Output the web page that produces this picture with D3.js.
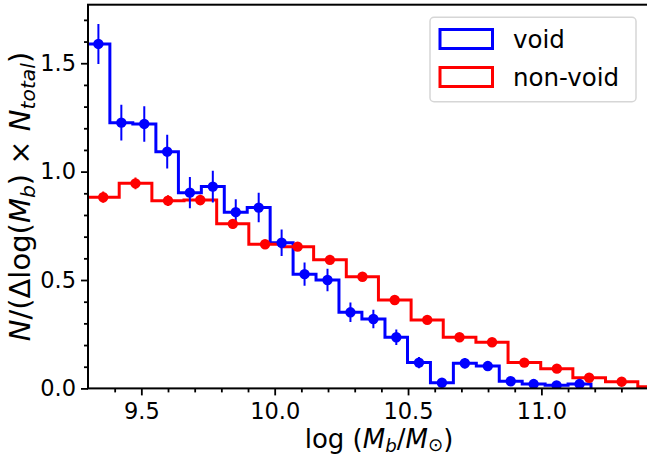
<!DOCTYPE html>
<html><head><meta charset="utf-8">
<script src="https://cdn.jsdelivr.net/npm/d3@7"></script>
<style>
body{margin:0;background:#fff;}
svg{display:block;font-family:"DejaVu Sans",sans-serif;}
</style></head>
<body>
<svg id="c" width="647" height="456"></svg>
<script>
// ---- data ----
const voidCenters = [9.339, 9.425, 9.511, 9.597, 9.682, 9.768, 9.854, 9.940, 10.026, 10.112, 10.198,
  10.284, 10.370, 10.456, 10.541, 10.627, 10.713, 10.799, 10.885, 10.971, 11.057, 11.143];
const voidValues = [1.589, 1.226, 1.220, 1.092, 0.903, 0.931, 0.813, 0.834, 0.672, 0.527, 0.500,
  0.351, 0.320, 0.236, 0.119, 0.026, 0.116, 0.103, 0.033, 0.020, 0.014, 0.020];
const voidErrors = [0.092, 0.082, 0.082, 0.078, 0.072, 0.073, 0.059, 0.068, 0.061, 0.054, 0.052,
  0.045, 0.043, 0.036, 0.026, 0.012, 0.024, 0.022, 0.013, 0.010, 0.008, 0.010];
const nonvoidCenters = [9.357, 9.478, 9.600, 9.721, 9.843, 9.964, 10.086, 10.207, 10.329, 10.450,
  10.572, 10.693, 10.815, 10.936, 11.058, 11.179, 11.301, 11.422];
const nonvoidValues = [0.882, 0.946, 0.866, 0.869, 0.759, 0.665, 0.654, 0.593, 0.515, 0.408,
  0.316, 0.236, 0.213, 0.119, 0.091, 0.049, 0.031, 0.008];
const nonvoidErrors = [0.026, 0.027, 0.025, 0.024, 0.022, 0.020, 0.019, 0.018, 0.016, 0.014,
  0.012, 0.010, 0.010, 0.008, 0.007, 0.005, 0.004, 0.002];
const xTicks = [9.5, 10.0, 10.5, 11.0];
const xMinorTicks = [9.4, 9.6, 9.7, 9.8, 9.9, 10.1, 10.2, 10.3, 10.4, 10.6, 10.7, 10.8, 10.9, 11.1, 11.2, 11.3, 11.4];
const yTicks = [0.0, 0.5, 1.0, 1.5];
const yMinorTicks = [0.1, 0.2, 0.3, 0.4, 0.6, 0.7, 0.8, 0.9, 1.1, 1.2, 1.3, 1.4, 1.6, 1.7];
const seriesNames = ["void", "non-void"];
const seriesColors = ["#0000ff", "#ff0000"];

// ---- layout ----
const L = 88, T = 4.7, B = 388.4;
const x = d3.scaleLinear().domain([9.3, 11.5]).range([L, L + 2.2 * 266.7]);
const y = d3.scaleLinear().domain([0, 1.77]).range([B, T]);
const R = x.range()[1];

const svg = d3.select("#c");
svg.append("defs").append("clipPath").attr("id", "clip")
  .append("rect").attr("x", L).attr("y", T).attr("width", R - L).attr("height", B - T);

function edgesFrom(c) {
  const e = [];
  for (let i = 0; i < c.length; i++) {
    const h = (i < c.length - 1 ? c[i + 1] - c[i] : c[i] - c[i - 1]) / 2;
    e.push(c[i] - h);
  }
  const hl = (c[c.length - 1] - c[c.length - 2]) / 2;
  e.push(c[c.length - 1] + hl);
  return e;
}
function stepPoints(c, v) {
  const e = edgesFrom(c);
  const pts = [[e[0], 0]];
  for (let i = 0; i < v.length; i++) { pts.push([e[i], v[i]]); pts.push([e[i + 1], v[i]]); }
  pts.push([e[v.length], 0]);
  return pts;
}
const line = d3.line().x(d => x(d[0])).y(d => y(d[1]));
const plot = svg.append("g").attr("clip-path", "url(#clip)");

const series = [
  {c: voidCenters, v: voidValues, e: voidErrors, col: seriesColors[0]},
  {c: nonvoidCenters, v: nonvoidValues, e: nonvoidErrors, col: seriesColors[1]}
];
series.forEach(s => {
  plot.append("path").attr("d", line(stepPoints(s.c, s.v)))
    .attr("fill", "none").attr("stroke", s.col).attr("stroke-width", 3)
    .attr("stroke-linejoin", "miter");
});
series.forEach(s => {
  const g = plot.append("g");
  g.selectAll("line").data(s.c).join("line")
    .attr("x1", d => x(d)).attr("x2", d => x(d))
    .attr("y1", (d, i) => y(s.v[i] - s.e[i])).attr("y2", (d, i) => y(s.v[i] + s.e[i]))
    .attr("stroke", s.col).attr("stroke-width", 2);
  g.selectAll("circle").data(s.c).join("circle")
    .attr("cx", d => x(d)).attr("cy", (d, i) => y(s.v[i])).attr("r", 5.2)
    .attr("fill", s.col);
});

// frame
svg.append("rect").attr("x", L).attr("y", T).attr("width", R - L).attr("height", B - T)
  .attr("fill", "none").attr("stroke", "#000").attr("stroke-width", 2);

// axes
const fs = 22.5;
const xAx = svg.append("g").attr("transform", `translate(0,${B})`)
  .call(d3.axisBottom(x).tickValues(xTicks).tickFormat(d3.format(".1f")).tickSize(7).tickSizeOuter(0).tickPadding(8));
const xMin = svg.append("g").attr("transform", `translate(0,${B})`)
  .call(d3.axisBottom(x).tickValues(xMinorTicks).tickFormat("").tickSize(4).tickSizeOuter(0));
const yAx = svg.append("g").attr("transform", `translate(${L},0)`)
  .call(d3.axisLeft(y).tickValues(yTicks).tickFormat(d3.format(".1f")).tickSize(7).tickSizeOuter(0).tickPadding(5));
const yMin = svg.append("g").attr("transform", `translate(${L},0)`)
  .call(d3.axisLeft(y).tickValues(yMinorTicks).tickFormat("").tickSize(4).tickSizeOuter(0));
[xAx, xMin, yAx, yMin].forEach(g => {
  g.select(".domain").remove();
  g.selectAll(".tick line").attr("stroke", "#000").attr("stroke-width", 1.8);
  g.selectAll(".tick text").attr("fill", "#000").style("font-size", fs + "px").style("font-family", "DejaVu Sans");
});

// axis labels
const xf = 26, xs = xf * 0.7;
const xl = svg.append("text").attr("x", 379).attr("y", 448).attr("text-anchor", "middle")
  .style("font-size", xf + "px").attr("fill", "#000");
xl.append("tspan").text("log (");
xl.append("tspan").style("font-style", "italic").text("M");
xl.append("tspan").style("font-style", "italic").style("font-size", xs + "px").attr("dy", 4).text("b");
xl.append("tspan").attr("dy", -4).text("/");
xl.append("tspan").style("font-style", "italic").text("M");
xl.append("tspan").style("font-size", xs + "px").attr("dy", 3).text("⊙");
xl.append("tspan").attr("dy", -3).text(")");

const yf = 29, ys = yf * 0.7;
const yl = svg.append("text").attr("transform", `translate(30,196.5) rotate(-90)`)
  .attr("text-anchor", "middle").style("font-size", yf + "px").attr("fill", "#000");
yl.append("tspan").style("font-style", "italic").text("N");
yl.append("tspan").text("/(Δlog(");
yl.append("tspan").style("font-style", "italic").text("M");
yl.append("tspan").style("font-style", "italic").style("font-size", ys + "px").attr("dy", 5).text("b");
yl.append("tspan").attr("dy", -5).text(") × ");
yl.append("tspan").style("font-style", "italic").text("N");
yl.append("tspan").style("font-style", "italic").style("font-size", ys + "px").attr("dy", 5).text("total");
yl.append("tspan").attr("dy", -5).text(")");

// legend
const lg = svg.append("g");
lg.append("rect").attr("x", 430).attr("y", 17.3).attr("width", 206).attr("height", 84.4).attr("rx", 4)
  .attr("fill", "#fff").attr("fill-opacity", 0.8).attr("stroke", "#d6d6d6").attr("stroke-width", 1.5);
seriesNames.forEach((n, i) => {
  lg.append("rect").attr("x", 440).attr("y", 29.5 + i * 38).attr("width", 52.5).attr("height", 19)
    .attr("fill", "none").attr("stroke", seriesColors[i]).attr("stroke-width", 3);
  lg.append("text").attr("x", 513).attr("y", 48 + i * 38).style("font-size", "24.5px").attr("fill", "#000").text(n);
});
</script>
</body></html>
